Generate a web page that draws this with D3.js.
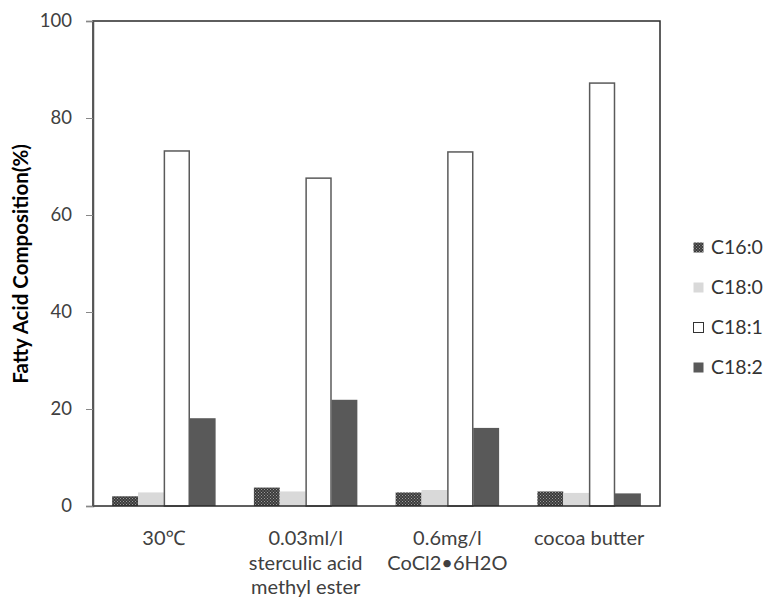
<!DOCTYPE html>
<html>
<head>
<meta charset="utf-8">
<script src="https://cdn.jsdelivr.net/npm/d3@7"></script>
<style>
  body { margin: 0; background: #fff; }
  text { font-family: Lato, "Noto Sans", sans-serif; }
</style>
</head>
<body>
<div id="chart"></div>
<script>
// category labels, one array entry per line
var categories = [
    ["30\u2103"],
    ["0.03ml/l", "sterculic acid", "methyl ester"],
    ["0.6mg/l", "CoCl2\u20226H2O"],
    ["cocoa butter"]
];
var seriesNames = ["C16:0", "C18:0", "C18:1", "C18:2"];
var c160 = [2.0, 3.8, 2.8, 3.0];
var c180 = [2.8, 3.0, 3.3, 2.7];
var c181 = [73.2, 67.6, 73.0, 87.2];
var c182 = [18.1, 21.9, 16.1, 2.6];
var yTicks = [0, 20, 40, 60, 80, 100];

var series = [c160, c180, c181, c182];
var width = 763, height = 597;
var margin = {top: 21, right: 103, bottom: 91, left: 93};
var plotW = width - margin.left - margin.right;
var plotH = height - margin.top - margin.bottom;

var svg = d3.select('#chart').append('svg')
    .attr('width', width)
    .attr('height', height);

// checkered fill for C16:0
var defs = svg.append('defs');
var pat = defs.append('pattern')
    .attr('id', 'checker')
    .attr('width', 3)
    .attr('height', 3)
    .attr('patternUnits', 'userSpaceOnUse');
pat.append('rect').attr('width', 3).attr('height', 3).attr('fill', '#3a3a3a');
pat.append('rect').attr('x', 0).attr('y', 0).attr('width', 1).attr('height', 1).attr('fill', '#9a9a9a');
pat.append('rect').attr('x', 1.5).attr('y', 1.5).attr('width', 1).attr('height', 1).attr('fill', '#9a9a9a');

var fills = ['url(#checker)', '#d9d9d9', '#ffffff', '#595959'];
var strokes = ['none', 'none', '#5a5a5a', 'none'];

var g = svg.append('g')
    .attr('transform', 'translate(' + margin.left + ',' + margin.top + ')');

var x0 = d3.scaleBand().domain(d3.range(categories.length)).range([0, plotW]).paddingInner(0.27).paddingOuter(0.135);
var x1 = d3.scaleBand().domain(d3.range(series.length)).range([0, x0.bandwidth()]);
var y = d3.scaleLinear().domain([0, 100]).range([plotH, 0]);

// bars
series.forEach(function(vals, si) {
    g.selectAll('.bar' + si)
        .data(vals)
        .enter().append('rect')
        .attr('class', 'bar' + si)
        .attr('x', function(d, i) { return x0(i) + x1(si) + (strokes[si] != 'none' ? 0.5 : 0); })
        .attr('y', function(d) { return y(d); })
        .attr('width', x1.bandwidth() - (strokes[si] != 'none' ? 1 : 0))
        .attr('height', function(d) { return plotH - y(d); })
        .attr('fill', fills[si])
        .attr('stroke', strokes[si])
        .attr('stroke-width', 1.5);
});

// frame
g.append('rect')
    .attr('width', plotW)
    .attr('height', plotH)
    .attr('fill', 'none')
    .attr('stroke', '#2a2a2a')
    .attr('stroke-width', 1.5);

// y axis
var yAxis = g.append('g')
    .call(d3.axisLeft(y).tickValues(yTicks).tickSize(7).tickPadding(14).tickFormat(d3.format('d')));
yAxis.select('.domain').attr('stroke', '#555').attr('stroke-width', 1.5);
yAxis.selectAll('.tick line').attr('stroke', '#888');
yAxis.selectAll('.tick text').attr('font-size', 18.5).attr('fill', '#404040')
    .style('font-family', 'Lato, "Noto Sans", sans-serif');

// category labels
var catLabels = g.selectAll('.cat')
    .data(categories)
    .enter().append('text')
    .attr('class', 'cat')
    .attr('text-anchor', 'middle')
    .attr('font-size', 20)
    .attr('fill', '#404040')
    .attr('transform', function(d, i) {
        return 'translate(' + (x0(i) + x0.bandwidth() / 2) + ',' + (plotH + 39) + ')';
    });
catLabels.selectAll('tspan')
    .data(function(d) { return d; })
    .enter().append('tspan')
    .attr('x', 0)
    .attr('dy', function(d, i) { return i == 0 ? 0 : 24.5; })
    .text(function(d) { return d; });

// y title
svg.append('text')
    .attr('transform', 'translate(28,' + 264 + ') rotate(-90)')
    .attr('text-anchor', 'middle')
    .attr('font-size', 20.5)
    .attr('font-weight', 'bold')
    .attr('fill', '#000')
    .text('Fatty Acid Composition(%)');

// legend
var legend = svg.selectAll('.legendItem')
    .data(seriesNames)
    .enter().append('g')
    .attr('class', 'legendItem')
    .attr('transform', function(d, i) {
        return 'translate(693,' + (242 + 40 * i) + ')';
    });
legend.append('rect')
    .attr('x', 0.5)
    .attr('y', 0.5)
    .attr('width', 10)
    .attr('height', 10)
    .attr('fill', function(d, i) { return fills[i]; })
    .attr('stroke', function(d, i) { return strokes[i] != 'none' ? '#333' : 'none'; })
    .attr('stroke-width', 1);
legend.append('text')
    .attr('x', 18)
    .attr('y', 12)
    .attr('font-size', 19.5)
    .attr('fill', '#333')
    .text(function(d) { return d; });
</script>
</body>
</html>
